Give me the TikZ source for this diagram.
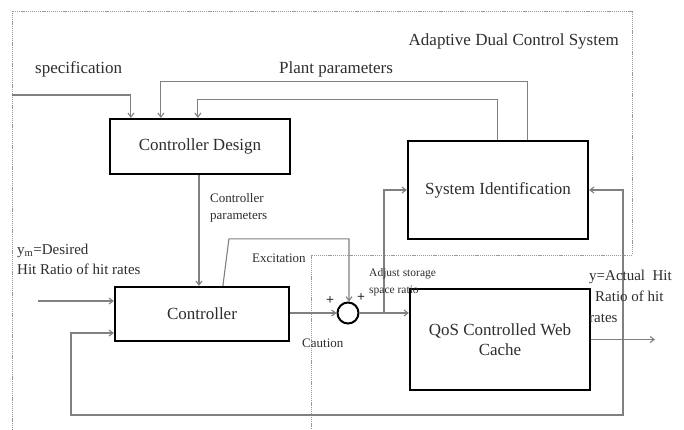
\documentclass[tikz,border=0pt]{standalone}
\usepackage{fontspec}
\setmainfont{Liberation Serif}
\usetikzlibrary{arrows.meta}

\definecolor{ink}{rgb}{0.18,0.18,0.18}
\definecolor{wire}{rgb}{0.50,0.50,0.50}
\definecolor{rim}{rgb}{0.60,0.60,0.60}

\tikzset{
  block/.style={draw=black, line width=2.2pt, rectangle, inner sep=0pt,
                font=\fontsize{17}{20}\selectfont, text=ink, align=center},
  conn/.style={draw=wire, line width=1.1pt, -{Straight Barb[length=4pt,width=6pt]}},
  frame/.style={draw=rim, line width=0.8pt, dash pattern=on 1.2pt off 0.9pt},
  lbig/.style={font=\fontsize{17}{20}\selectfont, text=ink, inner sep=0pt},
  lmid/.style={font=\fontsize{15}{20}\selectfont, text=ink, inner sep=0pt, align=left},
  lsmall/.style={font=\fontsize{13}{17}\selectfont, text=ink, inner sep=0pt, align=left},
  ltiny/.style={font=\fontsize{11.5}{17}\selectfont, text=ink, inner sep=0pt, align=left},
}

\begin{document}
\begin{tikzpicture}[x=1pt, y=-1pt]
  \useasboundingbox (0,0) rectangle (684,430);
  \fill[white] (0,0) rectangle (684,430);

  % outer boundary of the adaptive dual controller
  \draw[frame] (12,430) -- (12,11) -- (632,11) -- (632,255) -- (311,255) -- (311,430);
  \node[lbig, anchor=east] (title) at (619,41) {Adaptive Dual Control System};

  % blocks
  \node[block, minimum width=180pt, minimum height=55pt] (cd)   at (200,146.5) {Controller Design};
  \node[block, minimum width=180pt, minimum height=98pt] (si)   at (498,190) {System Identification};
  \node[block, minimum width=174pt, minimum height=54pt] (ctrl) at (202,314) {Controller};
  \node[block, minimum width=180pt, minimum height=101pt] (qos) at (500,339.5) {QoS Controlled Web\\Cache};
  \node[draw=black, line width=2pt, circle, minimum size=21pt, inner sep=0pt] (sum) at (348,313) {};

  % specification and plant parameters into the design block
  \coordinate (specin) at (12,95);
  \draw[conn] (specin) -| ([xshift=22pt]cd.north west);
  \node[lbig, anchor=west] (spec) at (35,69) {specification};
  \draw[conn] ([xshift=121pt]si.north west) -- ++(0,-58) -| ([xshift=52pt]cd.north west);
  \draw[conn] ([xshift=91pt]si.north west) -- ++(0,-40) -| ([xshift=89pt]cd.north west);
  \node[lbig, anchor=west] (plant) at (279,69) {Plant parameters};

  % controller parameters
  \draw[conn] ([xshift=-1pt]cd.south) -- ([xshift=-1pt]cd.south |- ctrl.north);
  \node[lsmall, anchor=north west] (cpar) at (210,193) {Controller\\parameters};

  % reference input and feedback into the controller
  \coordinate (yin) at (38,301);
  \draw[conn] (yin) -- ([yshift=13pt]ctrl.west);
  \node[lmid, anchor=north west] (ydes) at (17,244) {y\textsubscript{m}=Desired\\Hit Ratio of hit rates};

  % excitation and caution into the summing junction
  \draw[conn] ([xshift=109pt]ctrl.north west) -- ++(6,-47) -| ([xshift=1pt]sum.north);
  \node[lsmall, anchor=west] (exc) at (252,258) {Excitation};
  \draw[conn] (ctrl.east |- sum.west) -- (sum.west);
  \node[lsmall, anchor=west] (caut) at (302,343) {Caution};
  \node[lsmall, font=\fontsize{14}{15}\bfseries] (pl1) at (330,301) {+};
  \node[lsmall, font=\fontsize{14}{15}\bfseries] (pl2) at (361,298) {+};

  % summing junction to the cache, branch to identification
  \draw[conn] (sum.east) -- (sum.east -| qos.west);
  \coordinate (br) at (384,313);
  \draw[conn] (br) |- (si.west);
  \node[ltiny, anchor=north west] (adj) at (369,268) {Adjust storage\\space ratio};

  % plant output and its feedback paths
  \coordinate (yout) at (655,339.5);
  \coordinate (fb) at (623,339.5);
  \draw[conn] (qos.east) -- (yout);
  \draw[conn] (fb) |- (si.east);
  \draw[conn] (fb) -- (623,415) -| (71,333) -- ([yshift=-19pt]ctrl.west);
  \node[lmid, anchor=north west, font=\fontsize{15}{21}\selectfont] (yact) at (589,270)
    {y=Actual\ \ Hit\\\hspace*{6pt}Ratio of hit\\rates};
\end{tikzpicture}
\end{document}
